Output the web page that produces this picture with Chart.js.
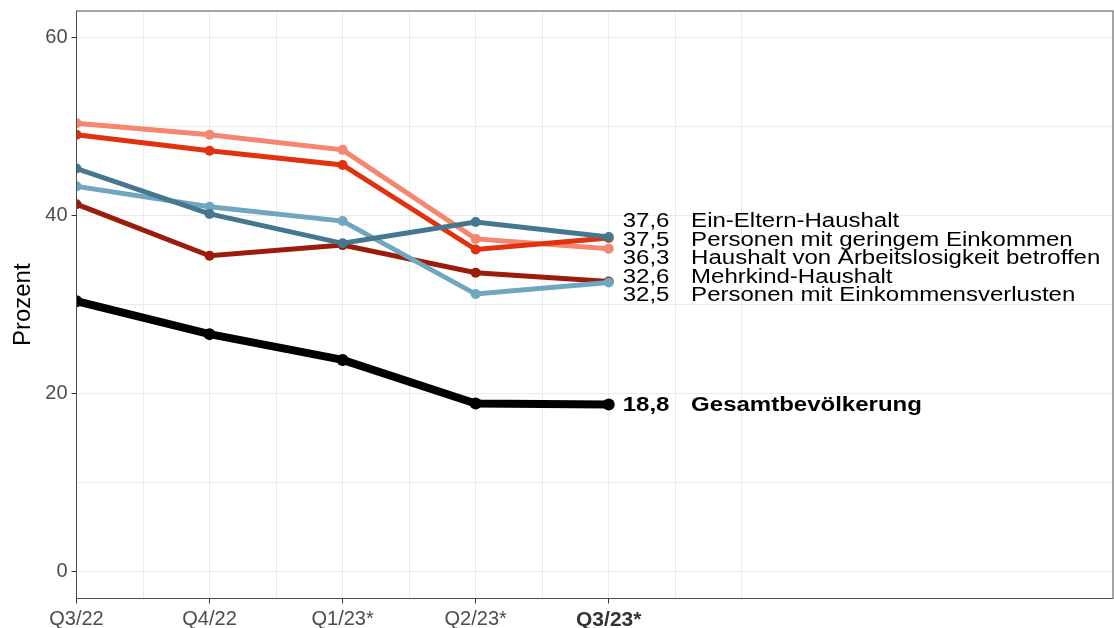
<!DOCTYPE html>
<html>
<head>
<meta charset="utf-8">
<script src="https://cdn.jsdelivr.net/npm/chart.js@4"></script>
<style>
  html, body { margin: 0; padding: 0; background: #fff; }
  #wrap { width: 1114px; height: 628px; }
</style>
</head>
<body>
<div id="wrap"><canvas id="chart" width="1114" height="628"></canvas></div>
<script>
// ========================
// DATA
// ========================
const quarters = ["Q3/22", "Q4/22", "Q1/23*", "Q2/23*", "Q3/23*"];
const yTicks = [0, 20, 40, 60];

const gesamt      = [30.4, 26.7, 23.8, 18.9, 18.8];
const einEltern   = [45.3, 40.2, 36.9, 39.3, 37.6];
const verluste    = [43.3, 41.0, 39.4, 31.2, 32.5];
const geringEink  = [49.1, 47.3, 45.7, 36.2, 37.5];
const arbeitslos  = [50.4, 49.1, 47.4, 37.4, 36.3];
const mehrkind    = [41.3, 35.5, 36.7, 33.6, 32.6];

const seriesNames = [
  "Gesamtbevölkerung",
  "Ein-Eltern-Haushalt",
  "Personen mit Einkommensverlusten",
  "Personen mit geringem Einkommen",
  "Haushalt von Arbeitslosigkeit betroffen",
  "Mehrkind-Haushalt"
];
const seriesValues = [gesamt, einEltern, verluste, geringEink, arbeitslos, mehrkind];
const seriesColors = ["#000000", "#45788f", "#6fa7c0", "#e0320f", "#f5866f", "#9c1c0b"];

// ========================
// HELPERS
// ========================
const fmt = v => v.toFixed(1).replace(".", ",");
const STRETCH = 1.2; // reference text is a bit wide
const FONT = '"Liberation Sans", Arial, sans-serif';

const datasets = seriesValues.map((vals, i) => ({
  label: seriesNames[i],
  data: vals.map((v, j) => ({ x: j + 1, y: v })),
  borderColor: seriesColors[i],
  backgroundColor: seriesColors[i],
  borderWidth: i === 0 ? 8 : 5,
  pointRadius: i === 0 ? 6 : 5,
  pointBorderWidth: 0,
  tension: 0,
  clip: 0
}));

// panel border like ggplot theme_bw
const borderPlugin = {
  id: "panelBorder",
  afterDraw(chart) {
    const { ctx, chartArea: a } = chart;
    ctx.save();
    ctx.strokeStyle = "#4d4d4d";
    ctx.lineWidth = 1;
    ctx.strokeRect(a.left, a.top, a.right - a.left, a.bottom - a.top);
    ctx.restore();
  }
};

// end labels, pushed apart a little so they don't overlap
const endLabels = {
  id: "endLabels",
  afterDatasetsDraw(chart) {
    const ctx = chart.ctx;
    const items = chart.data.datasets.map((ds, i) => {
      const pt = chart.getDatasetMeta(i).data[quarters.length - 1];
      return { i, x: pt.x, y: pt.y, ly: pt.y };
    }).sort((a, b) => a.y - b.y);

    const gap = 18.5;
    for (let k = 0; k < 200; k++) {
      for (let n = 0; n < items.length - 1; n++) {
        const d = items[n + 1].ly - items[n].ly;
        if (d < gap) {
          const push = (gap - d) / 2;
          items[n].ly -= push;
          items[n + 1].ly += push;
        }
      }
    }

    items.forEach(it => {
      const bold = it.i === 0;
      const vals = seriesValues[it.i];
      ctx.save();
      ctx.fillStyle = "#000";
      ctx.textBaseline = "middle";
      ctx.textAlign = "left";
      ctx.font = (bold ? "bold " : "") + "20px " + FONT;
      ctx.translate(it.x + 14, it.ly + 1);
      ctx.scale(STRETCH, 1);
      ctx.fillText(fmt(vals[vals.length - 1]), 0, 0);
      ctx.fillText(seriesNames[it.i], 57, 0);
      ctx.restore();
    });
  }
};

// ========================
// CHART
// ========================
const ctx = document.getElementById("chart").getContext("2d");

new Chart(ctx, {
  type: "line",
  data: { datasets },
  plugins: [borderPlugin, endLabels],
  options: {
    responsive: false,
    animation: false,
    layout: { autoPadding: false, padding: { top: 11, right: 1, left: 0, bottom: 0 } },
    plugins: {
      legend: { display: false },
      tooltip: { enabled: false }
    },
    scales: {
      x: {
        type: "linear",
        min: 1,
        max: 8.79,
        afterBuildTicks(scale) {
          const t = [];
          for (let v = 1; v <= 6; v += 0.5) t.push({ value: v });
          scale.ticks = t;
        },
        afterFit(scale) {
          scale.height = 29.5;
          scale.paddingLeft = 0;
          scale.paddingRight = 0;
        },
        border: { display: false },
        grid: {
          color: "#ebebeb",
          lineWidth: 1,
          drawTicks: true,
          tickLength: 5,
          tickColor: c => (c.tick && Number.isInteger(c.tick.value) && c.tick.value <= quarters.length) ? "#333" : "rgba(0,0,0,0)"
        },
        ticks: {
          autoSkip: false,
          maxRotation: 0,
          padding: 4,
          color: c => (c.tick && c.tick.value === quarters.length) ? "#333" : "#4d4d4d",
          font: c => (c.tick && c.tick.value === quarters.length)
            ? { family: FONT, size: 21, weight: "bold" }
            : { family: FONT, size: 20 },
          callback: v => (Number.isInteger(v) && v <= quarters.length) ? quarters[v - 1] : ""
        }
      },
      y: {
        type: "linear",
        min: -3,
        max: 63,
        afterBuildTicks(scale) {
          const t = [];
          for (let v = 0; v <= 60; v += 10) t.push({ value: v });
          scale.ticks = t;
        },
        afterFit(scale) {
          scale.width = 76.5;
          scale.paddingTop = 0;
          scale.paddingBottom = 0;
        },
        border: { display: false },
        grid: {
          color: "#ebebeb",
          lineWidth: 1,
          drawTicks: true,
          tickLength: 5,
          tickColor: c => (c.tick && yTicks.includes(c.tick.value)) ? "#333" : "rgba(0,0,0,0)"
        },
        ticks: {
          padding: 4,
          color: "#4d4d4d",
          font: { family: FONT, size: 20 },
          callback: v => yTicks.includes(v) ? String(v) : ""
        },
        title: {
          display: true,
          text: "Prozent",
          color: "#000",
          padding: { top: 9, bottom: 0 },
          font: { family: FONT, size: 24 }
        }
      }
    }
  }
});
</script>
</body>
</html>
